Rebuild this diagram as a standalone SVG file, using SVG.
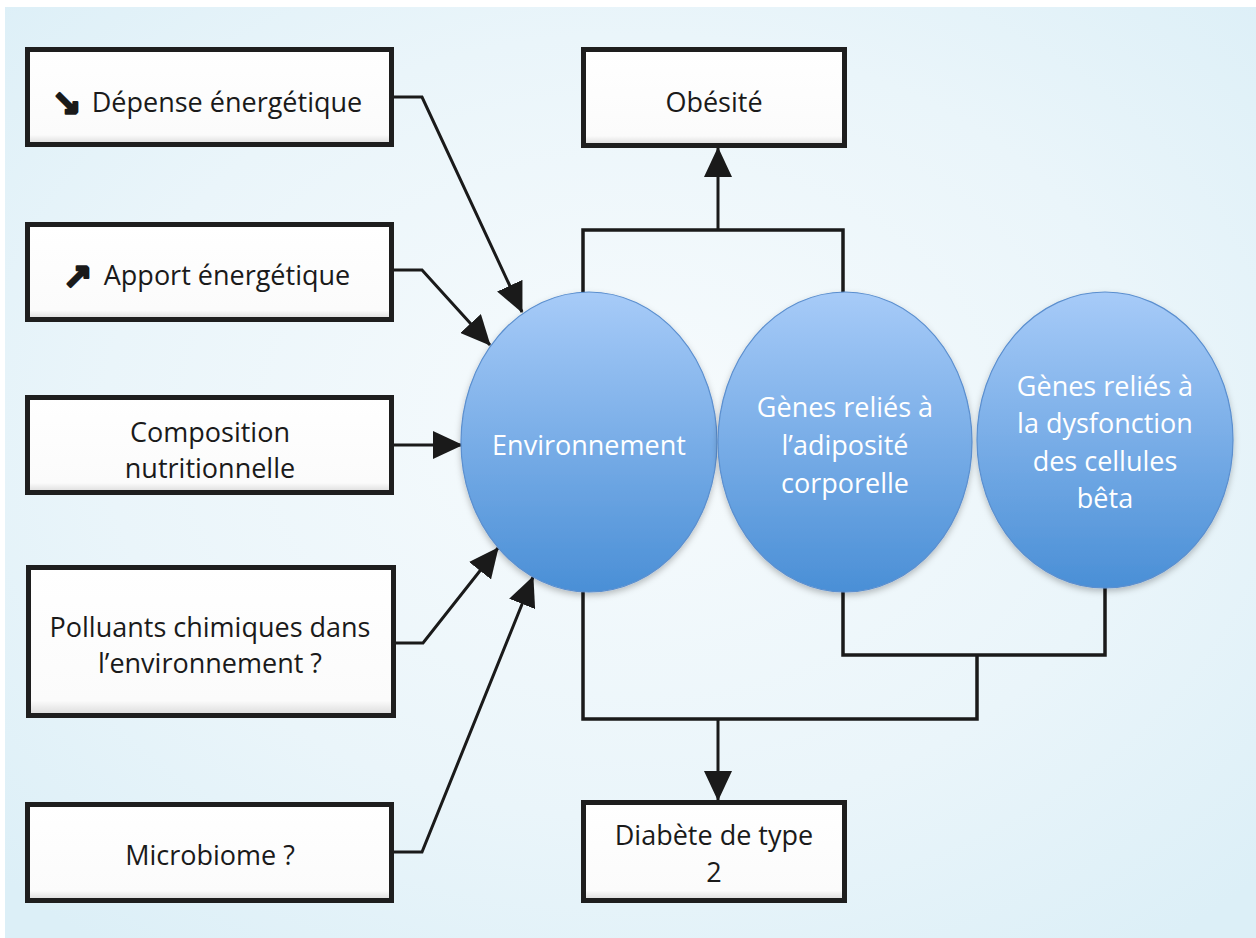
<svg xmlns="http://www.w3.org/2000/svg" width="1256" height="938" viewBox="0 0 1256 938">
<defs>
<radialGradient id="bg" cx="0.5" cy="0.45" r="0.7">
<stop offset="0" stop-color="#f7fbfd"/>
<stop offset="0.6" stop-color="#eaf5fa"/>
<stop offset="1" stop-color="#dceff7"/>
</radialGradient>
<linearGradient id="ell" x1="0" y1="0" x2="0" y2="1">
<stop offset="0" stop-color="#a7cbf8"/>
<stop offset="1" stop-color="#4a8fd6"/>
</linearGradient>
<linearGradient id="boxfill" x1="0" y1="0" x2="0" y2="1">
<stop offset="0" stop-color="#ffffff"/>
<stop offset="0.9" stop-color="#fbfbfb"/>
<stop offset="1" stop-color="#d9d9d9"/>
</linearGradient>
<filter id="sh" x="-10%" y="-10%" width="120%" height="125%">
<feDropShadow dx="0" dy="3" stdDeviation="3" flood-color="#000" flood-opacity="0.25"/>
</filter>
<marker id="ah" markerUnits="userSpaceOnUse" markerWidth="30" markerHeight="28" refX="29" refY="14" orient="auto">
<path d="M0,0 L30,14 L0,28 z" fill="#1a1a1a"/>
</marker>
<style>
.box{fill:url(#boxfill);stroke:#1e1e1e;stroke-width:5}
.t{font-family:"Open Sans","Liberation Sans",sans-serif;font-size:27px;fill:#1a1a1a;text-anchor:middle}
.w{font-family:"Open Sans","Liberation Sans",sans-serif;font-size:27px;fill:#ffffff;text-anchor:middle}
.ic{font-family:"DejaVu Sans",sans-serif;font-size:35px;font-weight:bold;fill:#1a1a1a;stroke:#1a1a1a;stroke-width:2.5;stroke-linejoin:round}
.e{fill:url(#ell);stroke:#5b8fcf;stroke-width:1.2;filter:url(#sh)}
.c{fill:none;stroke:#1a1a1a;stroke-width:3.5;stroke-linejoin:miter}
.a{fill:none;stroke:#1a1a1a;stroke-width:3;marker-end:url(#ah)}
</style>
</defs>
<rect x="5" y="7" width="1251" height="931" fill="url(#bg)"/>

<g id="connectors">
<path class="a" d="M394,97 H422 L522,312"/>
<path class="a" d="M394,270 H422 L490,345"/>
<path class="a" d="M394,445 H462"/>
<path class="a" d="M394,643 H423 L498,548"/>
<path class="a" d="M394,852 H422 L533,577"/>
<path class="c" d="M583,295 V230 H843 V295"/>
<path class="a" d="M718,230 V148"/>
<path class="c" d="M583,590 V719 H977 V655"/>
<path class="c" d="M843,588 V655 H1105 V586"/>
<path class="a" d="M718,719 V800"/>
</g>

<g id="n-depense">
<rect class="box" x="27.5" y="49.5" width="364" height="95"/>
<text class="ic" x="52" y="116">↘</text>
<text class="t" x="227" y="112">Dépense énergétique</text>
</g>
<g id="n-apport">
<rect class="box" x="27.5" y="224.5" width="364" height="95"/>
<text class="ic" x="63" y="289">↗</text>
<text class="t" x="227" y="285">Apport énergétique</text>
</g>
<g id="n-composition">
<rect class="box" x="27.5" y="397.5" width="364" height="95"/>
<text class="t" x="210" y="442">Composition</text>
<text class="t" x="210" y="478">nutritionnelle</text>
</g>
<g id="n-polluants">
<rect class="box" x="28.5" y="567.5" width="365" height="148"/>
<text class="t" x="210" y="637">Polluants chimiques dans</text>
<text class="t" x="210" y="673">l’environnement ?</text>
</g>
<g id="n-microbiome">
<rect class="box" x="27.5" y="804.5" width="364" height="96"/>
<text class="t" x="210" y="865">Microbiome ?</text>
</g>
<g id="n-obesite">
<rect class="box" x="583.5" y="49.5" width="261" height="96"/>
<text class="t" x="714" y="112">Obésité</text>
</g>
<g id="n-diabete">
<rect class="box" x="583.5" y="802.5" width="261" height="98"/>
<text class="t" x="714" y="845">Diabète de type</text>
<text class="t" x="714" y="882">2</text>
</g>
<g id="n-environnement">
<ellipse class="e" cx="589" cy="442" rx="128" ry="150"/>
<text class="w" x="589" y="455">Environnement</text>
</g>
<g id="n-genes-adiposite">
<ellipse class="e" cx="845" cy="442" rx="127" ry="150"/>
<text class="w" x="845" y="417">Gènes reliés à</text>
<text class="w" x="845" y="455">l’adiposité</text>
<text class="w" x="845" y="493">corporelle</text>
</g>
<g id="n-genes-beta">
<ellipse class="e" cx="1105" cy="440" rx="128" ry="148"/>
<text class="w" x="1105" y="396">Gènes reliés à</text>
<text class="w" x="1105" y="433">la dysfonction</text>
<text class="w" x="1105" y="471">des cellules</text>
<text class="w" x="1105" y="508">bêta</text>
</g>
</svg>
